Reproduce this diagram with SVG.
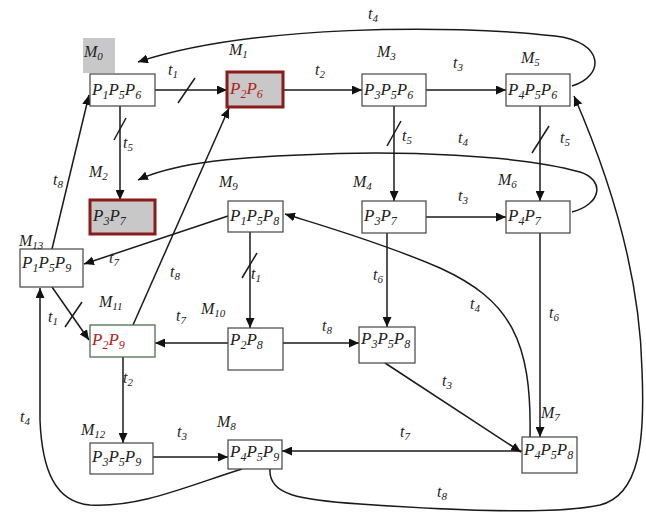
<svg xmlns="http://www.w3.org/2000/svg" width="646" height="515" viewBox="0 0 646 515">
<defs>
<marker id="ah" markerUnits="userSpaceOnUse" markerWidth="11" markerHeight="9" refX="10" refY="4.5" orient="auto"><path d="M0,0 L10,4.5 L0,9 z" fill="#111"/></marker>
<style>
.n rect{fill:#fff;stroke:#444;stroke-width:1.2}
.n rect.red{fill:#c8c8c8;stroke:#8b1a1a;stroke-width:3}
.n rect.grn{fill:#fff;stroke:#4f6f4f;stroke-width:1.3}
.n text{font-family:"Liberation Serif",serif;font-style:italic;font-size:17px;fill:#222}
.n text.rt{fill:#b22222}
.s{font-size:12px}
.e path,.e line{fill:none;stroke:#1a1a1a;stroke-width:1.5}
.e .ar{marker-end:url(#ah)}
.sl{stroke:#333;stroke-width:1.3}
.lb{font-family:"Liberation Serif",serif;font-style:italic;font-size:16px;fill:#222}
.lb .s{font-size:11px}
</style>
</defs>
<rect width="646" height="515" fill="#fff"/>
<rect x="83" y="38" width="32" height="35" fill="#c8c8c8"/>
<g class="e" id="connectors">
<line class="ar" x1="155" y1="90" x2="227" y2="90"/>
<line class="ar" x1="283" y1="90" x2="362" y2="90"/>
<line class="ar" x1="426" y1="90" x2="506" y2="90"/>
<path class="ar" d="M572,86 C605,76 605,42 555,36 C450,24 250,25 138,62"/>
<line class="ar" x1="120" y1="106" x2="120" y2="200"/>
<line class="ar" x1="394" y1="106" x2="394" y2="201"/>
<line class="ar" x1="540" y1="106" x2="540" y2="201"/>
<line class="ar" x1="426" y1="217" x2="506" y2="217"/>
<path class="ar" d="M572,212 C602,204 605,180 580,172 C520,155 400,150 300,155 C220,158 170,165 138,180"/>
<line class="ar" x1="228" y1="216" x2="84" y2="264"/>
<line class="ar" x1="250" y1="232" x2="250" y2="328"/>
<line class="ar" x1="387" y1="233" x2="387" y2="327"/>
<line class="ar" x1="540" y1="233" x2="540" y2="437"/>
<path class="ar" d="M530,437 C532,340 510,300 440,268 C380,242 320,225 285,214"/>
<line class="ar" x1="228" y1="343" x2="155" y2="343"/>
<line class="ar" x1="283" y1="343" x2="359" y2="343"/>
<line class="ar" x1="385" y1="363" x2="521" y2="452"/>
<line class="ar" x1="522" y1="451" x2="282" y2="451"/>
<path class="ar" d="M270,469 C268,495 300,500 360,504 C460,511 560,514 600,505 C640,495 645,440 642,370 C640,280 615,190 574,96"/>
<path class="ar" d="M242,469 C190,485 140,508 90,505 C55,502 42,470 40,420 L40,288"/>
<line class="ar" x1="52" y1="249" x2="89" y2="95"/>
<line class="ar" x1="52" y1="287" x2="89" y2="340"/>
<line class="ar" x1="133" y1="325" x2="229" y2="108"/>
<line class="ar" x1="123" y1="357" x2="123" y2="443"/>
<line class="ar" x1="153" y1="457" x2="228" y2="457"/>
<line class="sl" x1="178" y1="103" x2="195" y2="78"/>
<line class="sl" x1="114" y1="140" x2="126" y2="118"/>
<line class="sl" x1="387" y1="146" x2="401" y2="121"/>
<line class="sl" x1="532" y1="153" x2="549" y2="126"/>
<line class="sl" x1="242" y1="278" x2="257" y2="253"/>
<line class="sl" x1="65" y1="327" x2="82" y2="302"/>
</g>
<g id="M0" class="n"><rect x="90" y="74" width="65" height="32"/><text x="92" y="95">P<tspan class="s" dy="4">1</tspan><tspan dy="-4">P</tspan><tspan class="s" dy="4">5</tspan><tspan dy="-4">P</tspan><tspan class="s" dy="4">6</tspan></text></g>
<g id="M1" class="n"><rect class="red" x="227" y="72" width="56" height="35"/><text class="rt" x="230" y="94">P<tspan class="s" dy="4">2</tspan><tspan dy="-4">P</tspan><tspan class="s" dy="4">6</tspan></text></g>
<g id="M3" class="n"><rect x="362" y="74" width="64" height="32"/><text x="364" y="95">P<tspan class="s" dy="4">3</tspan><tspan dy="-4">P</tspan><tspan class="s" dy="4">5</tspan><tspan dy="-4">P</tspan><tspan class="s" dy="4">6</tspan></text></g>
<g id="M5" class="n"><rect x="506" y="74" width="64" height="32"/><text x="508" y="95">P<tspan class="s" dy="4">4</tspan><tspan dy="-4">P</tspan><tspan class="s" dy="4">5</tspan><tspan dy="-4">P</tspan><tspan class="s" dy="4">6</tspan></text></g>
<g id="M2" class="n"><rect class="red" x="90" y="200" width="65" height="34"/><text x="93" y="221">P<tspan class="s" dy="4">3</tspan><tspan dy="-4">P</tspan><tspan class="s" dy="4">7</tspan></text></g>
<g id="M9" class="n"><rect x="228" y="201" width="55" height="31"/><text x="230" y="221">P<tspan class="s" dy="4">1</tspan><tspan dy="-4">P</tspan><tspan class="s" dy="4">5</tspan><tspan dy="-4">P</tspan><tspan class="s" dy="4">8</tspan></text></g>
<g id="M4" class="n"><rect x="362" y="201" width="64" height="32"/><text x="364" y="221">P<tspan class="s" dy="4">3</tspan><tspan dy="-4">P</tspan><tspan class="s" dy="4">7</tspan></text></g>
<g id="M6" class="n"><rect x="506" y="201" width="64" height="32"/><text x="508" y="221">P<tspan class="s" dy="4">4</tspan><tspan dy="-4">P</tspan><tspan class="s" dy="4">7</tspan></text></g>
<g id="M13" class="n"><rect x="20" y="249" width="63" height="38"/><text x="22" y="268">P<tspan class="s" dy="4">1</tspan><tspan dy="-4">P</tspan><tspan class="s" dy="4">5</tspan><tspan dy="-4">P</tspan><tspan class="s" dy="4">9</tspan></text></g>
<g id="M11" class="n"><rect class="grn" x="90" y="325" width="65" height="32"/><text class="rt" x="92" y="345">P<tspan class="s" dy="4">2</tspan><tspan dy="-4">P</tspan><tspan class="s" dy="4">9</tspan></text></g>
<g id="M10" class="n"><rect x="228" y="328" width="55" height="42"/><text x="230" y="345">P<tspan class="s" dy="4">2</tspan><tspan dy="-4">P</tspan><tspan class="s" dy="4">8</tspan></text></g>
<g id="P3P5P8" class="n"><rect x="359" y="327" width="56" height="36"/><text x="361" y="344">P<tspan class="s" dy="4">3</tspan><tspan dy="-4">P</tspan><tspan class="s" dy="4">5</tspan><tspan dy="-4">P</tspan><tspan class="s" dy="4">8</tspan></text></g>
<g id="M12" class="n"><rect x="90" y="443" width="63" height="31"/><text x="92" y="462">P<tspan class="s" dy="4">3</tspan><tspan dy="-4">P</tspan><tspan class="s" dy="4">5</tspan><tspan dy="-4">P</tspan><tspan class="s" dy="4">9</tspan></text></g>
<g id="M8" class="n"><rect x="228" y="440" width="54" height="29"/><text x="230" y="457">P<tspan class="s" dy="4">4</tspan><tspan dy="-4">P</tspan><tspan class="s" dy="4">5</tspan><tspan dy="-4">P</tspan><tspan class="s" dy="4">9</tspan></text></g>
<g id="M7" class="n"><rect x="522" y="437" width="55" height="36"/><text x="524" y="455">P<tspan class="s" dy="4">4</tspan><tspan dy="-4">P</tspan><tspan class="s" dy="4">5</tspan><tspan dy="-4">P</tspan><tspan class="s" dy="4">8</tspan></text></g>
<g id="labels" class="lb">
<text x="84" y="57">M<tspan class="s" dy="3">0</tspan></text>
<text x="229" y="55">M<tspan class="s" dy="3">1</tspan></text>
<text x="377" y="57">M<tspan class="s" dy="3">3</tspan></text>
<text x="521" y="63">M<tspan class="s" dy="3">5</tspan></text>
<text x="89" y="177">M<tspan class="s" dy="3">2</tspan></text>
<text x="219" y="187">M<tspan class="s" dy="3">9</tspan></text>
<text x="353" y="187">M<tspan class="s" dy="3">4</tspan></text>
<text x="498" y="185">M<tspan class="s" dy="3">6</tspan></text>
<text x="19" y="246">M<tspan class="s" dy="3">13</tspan></text>
<text x="99" y="307">M<tspan class="s" dy="3">11</tspan></text>
<text x="201" y="314">M<tspan class="s" dy="3">10</tspan></text>
<text x="81" y="435">M<tspan class="s" dy="3">12</tspan></text>
<text x="217" y="427">M<tspan class="s" dy="3">8</tspan></text>
<text x="541" y="418">M<tspan class="s" dy="3">7</tspan></text>
<text x="368" y="19">t<tspan class="s" dy="3">4</tspan></text>
<text x="168" y="75">t<tspan class="s" dy="3">1</tspan></text>
<text x="315" y="75">t<tspan class="s" dy="3">2</tspan></text>
<text x="453" y="68">t<tspan class="s" dy="3">3</tspan></text>
<text x="123" y="148">t<tspan class="s" dy="3">5</tspan></text>
<text x="402" y="141">t<tspan class="s" dy="3">5</tspan></text>
<text x="458" y="143">t<tspan class="s" dy="3">4</tspan></text>
<text x="560" y="143">t<tspan class="s" dy="3">5</tspan></text>
<text x="458" y="201">t<tspan class="s" dy="3">3</tspan></text>
<text x="53" y="185">t<tspan class="s" dy="3">8</tspan></text>
<text x="109" y="263">t<tspan class="s" dy="3">7</tspan></text>
<text x="170" y="277">t<tspan class="s" dy="3">8</tspan></text>
<text x="251" y="279">t<tspan class="s" dy="3">1</tspan></text>
<text x="373" y="280">t<tspan class="s" dy="3">6</tspan></text>
<text x="470" y="309">t<tspan class="s" dy="3">4</tspan></text>
<text x="549" y="318">t<tspan class="s" dy="3">6</tspan></text>
<text x="176" y="321">t<tspan class="s" dy="3">7</tspan></text>
<text x="48" y="322">t<tspan class="s" dy="3">1</tspan></text>
<text x="322" y="331">t<tspan class="s" dy="3">8</tspan></text>
<text x="123" y="383">t<tspan class="s" dy="3">2</tspan></text>
<text x="442" y="386">t<tspan class="s" dy="3">3</tspan></text>
<text x="20" y="422">t<tspan class="s" dy="3">4</tspan></text>
<text x="177" y="437">t<tspan class="s" dy="3">3</tspan></text>
<text x="400" y="437">t<tspan class="s" dy="3">7</tspan></text>
<text x="437" y="497">t<tspan class="s" dy="3">8</tspan></text>
</g>
</svg>
